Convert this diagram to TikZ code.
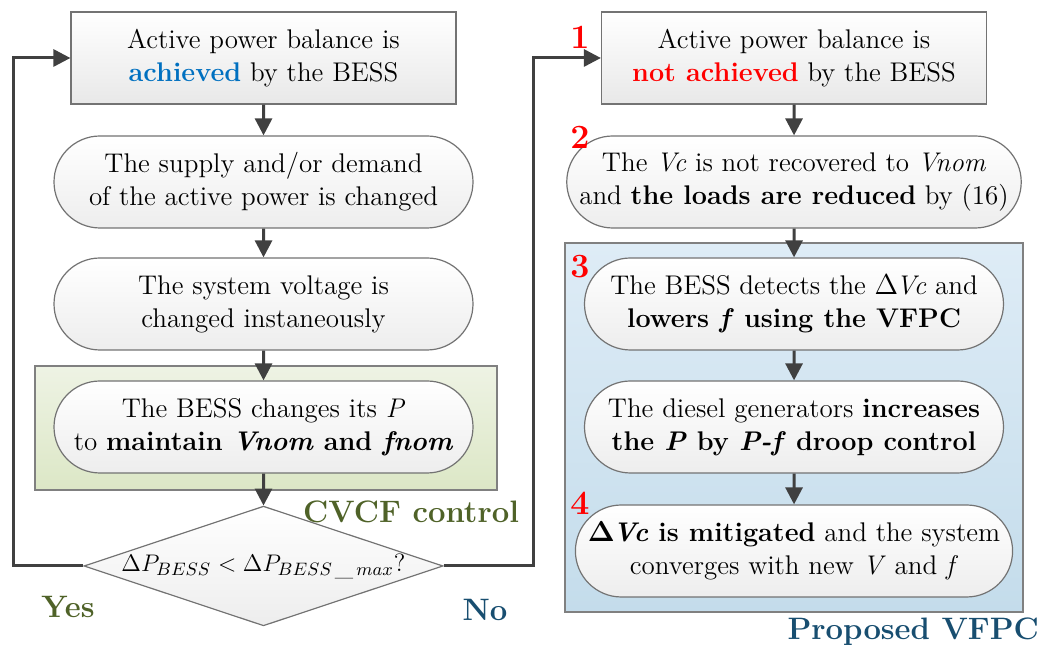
\documentclass[tikz,border=0pt]{standalone}
\usepackage{fontspec}
\usepackage{tikz}
\usetikzlibrary{arrows.meta,shapes.geometric,shapes.misc}
\definecolor{achblue}{RGB}{0,112,192}
\definecolor{cvcfgreen}{RGB}{79,98,40}
\definecolor{vfpcblue}{RGB}{24,78,112}
\definecolor{arrowgray}{RGB}{64,64,64}

\begin{document}
\begin{tikzpicture}[x=0.5pt, y=-0.5pt,
  procbox/.style={draw=black!55, line width=0.6pt, rectangle, align=center,
              top color=white, bottom color=black!9, inner sep=2pt,
              minimum width=192.5pt, minimum height=46pt,
              font=\fontsize{13.5}{16.5}\selectfont},
  termbox/.style={draw=black!55, line width=0.6pt, rounded rectangle, align=center,
              top color=white, bottom color=black!7, inner sep=1pt,
              minimum width=211.5pt, minimum height=46pt,
              font=\fontsize{13.5}{16.5}\selectfont},
  decbox/.style={draw=black!55, line width=0.6pt, diamond, aspect=3,
              top color=white, bottom color=black!7, inner sep=0pt,
              minimum width=172pt, minimum height=57pt,
              font=\fontsize{12.5}{15}\selectfont},
  groupbox/.style={draw=black!50, line width=0.6pt, rectangle, inner sep=0pt},
  numlabel/.style={text=red, font=\fontsize{17}{20}\selectfont\bfseries},
  grouplabel/.style={font=\fontsize{15.5}{19}\selectfont\bfseries},
  arrow/.style={-{Triangle[length=8.5pt, width=8.5pt]}, line width=1.5pt, draw=arrowgray},
]
  \useasboundingbox (0,0) rectangle (1046,651);

  % Control groups
  \node[groupbox, top color={rgb,255:red,238;green,243;blue,228},
        bottom color={rgb,255:red,220;green,231;blue,198},
        minimum width=231pt, minimum height=62pt] (cvcfgroup) at (266,428) {};
  \node[groupbox, top color={rgb,255:red,222;green,236;blue,246},
        bottom color={rgb,255:red,196;green,220;blue,235},
        minimum width=229pt, minimum height=184.5pt] (vfpcgroup) at (794,427.5) {};

  % Left column: CVCF control
  \node[procbox] (l1) at (263.5,58) {Active power balance is\\
        \textbf{\textcolor{achblue}{achieved}} by the BESS};
  \node[termbox] (l2) at (263.5,182) {The supply and/or demand\\
        of the active power is changed};
  \node[termbox] (l3) at (263.5,304) {The system voltage is\\changed instaneously};
  \node[termbox] (l4) at (263.5,427) {The BESS changes its \textit{P}\\
        to \textbf{maintain \textit{Vnom} and \textit{fnom}}};
  \node[decbox] (dec) at (263.5,566) {$\Delta P_{BESS} < \Delta P_{BESS\,\_\,max}$?};

  % Right column: proposed VFPC
  \node[procbox] (r1) at (794,58) {Active power balance is\\
        \textbf{\textcolor{red}{not achieved}} by the BESS};
  \node[termbox] (r2) at (794,182) {The \textit{Vc} is not recovered to \textit{Vnom}\\
        and \textbf{the loads are reduced} by (16)};
  \node[termbox] (r3) at (794,304) {The BESS detects the $\Delta$\kern-1pt\textit{Vc} and\\
        \textbf{lowers \textit{f} using the VFPC}};
  \node[termbox] (r4) at (794,427) {The diesel generators \textbf{increases}\\
        \textbf{the \textit{P} by \textit{P-f} droop control}};
  \node[termbox] (r5) at (794,551) {\textbf{{\boldmath$\Delta$}\kern-1pt\textit{Vc} is mitigated} and the system\\
        converges with new \textit{V} and \textit{f}};

  % Step numbers
  \node[numlabel] (n1) at (580,37) {1};
  \node[numlabel] (n2) at (580,137) {2};
  \node[numlabel] (n3) at (580,267) {3};
  \node[numlabel] (n4) at (580,503) {4};

  % Group and branch labels
  \node[grouplabel, text=cvcfgreen, anchor=east] (cvcf) at (526,512) {CVCF control};
  \node[grouplabel, text=vfpcblue, anchor=east] (vfpc) at (1046,632) {Proposed VFPC};
  \node[grouplabel, text=cvcfgreen] (yes) at (68,607) {Yes};
  \node[grouplabel, text=vfpcblue] (no) at (485,610) {No};

  % Flow
  \draw[arrow] (l1) -- (l2);
  \draw[arrow] (l2) -- (l3);
  \draw[arrow] (l3) -- (l4);
  \draw[arrow] (l4) -- (dec);
  \draw[arrow] (r1) -- (r2);
  \draw[arrow] (r2) -- (r3);
  \draw[arrow] (r3) -- (r4);
  \draw[arrow] (r4) -- (r5);

  % Decision branches
  \coordinate (yesturn) at (13,566);
  \coordinate (noturn) at (533,566);
  \draw[arrow] (dec.west) -- (yesturn) |- (l1.west);
  \draw[arrow] (dec.east) -- (noturn) |- (r1.west);
\end{tikzpicture}
\end{document}
